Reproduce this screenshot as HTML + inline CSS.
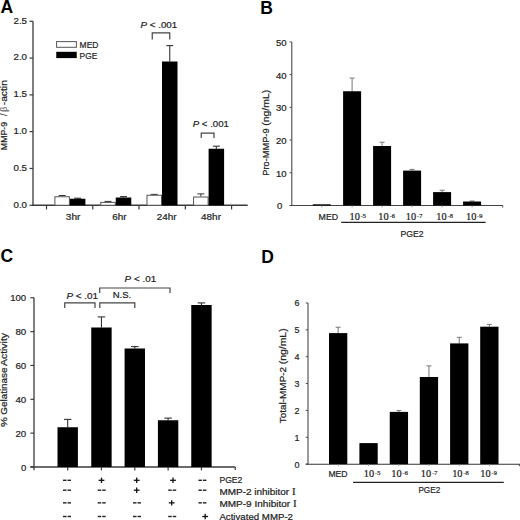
<!DOCTYPE html>
<html><head><meta charset="utf-8"><style>
html,body{margin:0;padding:0;background:#fff;width:520px;height:520px;overflow:hidden}
svg{display:block}
</style></head><body>
<svg width="520" height="520" viewBox="0 0 520 520" shape-rendering="auto">
<rect width="520" height="520" fill="#fff"/>
<text x="0.60" y="12.70" font-size="17.5" font-family='"Liberation Sans", sans-serif' text-anchor="start" fill="#000" font-weight="bold">A</text>
<text x="260.20" y="13.60" font-size="17.5" font-family='"Liberation Sans", sans-serif' text-anchor="start" fill="#000" font-weight="bold">B</text>
<text x="0.40" y="262.30" font-size="17.5" font-family='"Liberation Sans", sans-serif' text-anchor="start" fill="#000" font-weight="bold">C</text>
<text x="261.20" y="262.50" font-size="17.5" font-family='"Liberation Sans", sans-serif' text-anchor="start" fill="#000" font-weight="bold">D</text>
<line x1="33.00" y1="21.25" x2="33.00" y2="205.75" stroke="#3a3a3a" stroke-width="1.3"/>
<line x1="29.50" y1="21.25" x2="33.00" y2="21.25" stroke="#3a3a3a" stroke-width="1.2"/>
<text x="27.00" y="23.50" font-size="9" font-family='"Liberation Sans", sans-serif' text-anchor="end" fill="#222" stroke="#222" stroke-width="0.2" textLength="13.5" lengthAdjust="spacingAndGlyphs">2.5</text>
<line x1="29.50" y1="58.05" x2="33.00" y2="58.05" stroke="#3a3a3a" stroke-width="1.2"/>
<text x="27.00" y="60.44" font-size="9" font-family='"Liberation Sans", sans-serif' text-anchor="end" fill="#222" stroke="#222" stroke-width="0.2" textLength="13.5" lengthAdjust="spacingAndGlyphs">2.0</text>
<line x1="29.50" y1="94.85" x2="33.00" y2="94.85" stroke="#3a3a3a" stroke-width="1.2"/>
<text x="27.00" y="97.38" font-size="9" font-family='"Liberation Sans", sans-serif' text-anchor="end" fill="#222" stroke="#222" stroke-width="0.2" textLength="13.5" lengthAdjust="spacingAndGlyphs">1.5</text>
<line x1="29.50" y1="131.65" x2="33.00" y2="131.65" stroke="#3a3a3a" stroke-width="1.2"/>
<text x="27.00" y="134.32" font-size="9" font-family='"Liberation Sans", sans-serif' text-anchor="end" fill="#222" stroke="#222" stroke-width="0.2" textLength="13.5" lengthAdjust="spacingAndGlyphs">1.0</text>
<line x1="29.50" y1="168.45" x2="33.00" y2="168.45" stroke="#3a3a3a" stroke-width="1.2"/>
<text x="27.00" y="171.26" font-size="9" font-family='"Liberation Sans", sans-serif' text-anchor="end" fill="#222" stroke="#222" stroke-width="0.2" textLength="13.5" lengthAdjust="spacingAndGlyphs">0.5</text>
<line x1="29.50" y1="205.25" x2="33.00" y2="205.25" stroke="#3a3a3a" stroke-width="1.2"/>
<text x="27.00" y="208.20" font-size="9" font-family='"Liberation Sans", sans-serif' text-anchor="end" fill="#222" stroke="#222" stroke-width="0.2" textLength="13.5" lengthAdjust="spacingAndGlyphs">0.0</text>
<line x1="32.40" y1="205.25" x2="247.70" y2="205.25" stroke="#3a3a3a" stroke-width="1.3"/>
<line x1="46.50" y1="205.25" x2="46.50" y2="209.45" stroke="#3a3a3a" stroke-width="1.2"/>
<line x1="92.77" y1="205.25" x2="92.77" y2="209.45" stroke="#3a3a3a" stroke-width="1.2"/>
<line x1="139.04" y1="205.25" x2="139.04" y2="209.45" stroke="#3a3a3a" stroke-width="1.2"/>
<line x1="185.31" y1="205.25" x2="185.31" y2="209.45" stroke="#3a3a3a" stroke-width="1.2"/>
<line x1="231.58" y1="205.25" x2="231.58" y2="209.45" stroke="#3a3a3a" stroke-width="1.2"/>
<text stroke="#222" stroke-width="0.2" transform="translate(6.70,150.15) rotate(-90)" x="0" y="0" font-size="8.8" font-family='"Liberation Sans", sans-serif' fill="#222" textLength="28.20" lengthAdjust="spacingAndGlyphs">MMP-9</text>
<text stroke="#333" stroke-width="0.1" transform="translate(6.7,114.9) rotate(-90)" font-size="8.8" font-family='"Liberation Sans", sans-serif' fill="#333" text-anchor="middle">/</text>
<text stroke="#666" stroke-width="0.1" transform="translate(6.7,109.1) rotate(-90)" font-size="8.8" font-family='"Liberation Sans", sans-serif' fill="#666" text-anchor="middle">β</text>
<text stroke="#222" stroke-width="0.2" transform="translate(6.70,105.25) rotate(-90)" x="0" y="0" font-size="8.8" font-family='"Liberation Sans", sans-serif' fill="#222" textLength="25.10" lengthAdjust="spacingAndGlyphs">-actin</text>
<line x1="62.15" y1="196.25" x2="62.15" y2="195.50" stroke="#333" stroke-width="1"/>
<line x1="58.65" y1="195.50" x2="65.65" y2="195.50" stroke="#333" stroke-width="1"/>
<line x1="77.65" y1="198.75" x2="77.65" y2="198.20" stroke="#333" stroke-width="1.1"/>
<line x1="74.15" y1="198.20" x2="81.15" y2="198.20" stroke="#333" stroke-width="1.1"/>
<rect x="54.90" y="196.75" width="14.50" height="8.50" fill="#fff" stroke="#555" stroke-width="1"/>
<rect x="69.90" y="198.75" width="15.50" height="6.50" fill="#000"/>
<line x1="108.00" y1="201.90" x2="108.00" y2="201.40" stroke="#333" stroke-width="1"/>
<line x1="104.50" y1="201.40" x2="111.50" y2="201.40" stroke="#333" stroke-width="1"/>
<line x1="123.50" y1="197.50" x2="123.50" y2="196.60" stroke="#333" stroke-width="1.1"/>
<line x1="120.00" y1="196.60" x2="127.00" y2="196.60" stroke="#333" stroke-width="1.1"/>
<rect x="100.75" y="202.40" width="14.50" height="2.85" fill="#fff" stroke="#555" stroke-width="1"/>
<rect x="115.75" y="197.50" width="15.50" height="7.75" fill="#000"/>
<line x1="154.25" y1="194.75" x2="154.25" y2="194.40" stroke="#333" stroke-width="1"/>
<line x1="150.75" y1="194.40" x2="157.75" y2="194.40" stroke="#333" stroke-width="1"/>
<line x1="169.75" y1="61.50" x2="169.75" y2="45.60" stroke="#333" stroke-width="1.1"/>
<line x1="166.25" y1="45.60" x2="173.25" y2="45.60" stroke="#333" stroke-width="1.1"/>
<rect x="147.00" y="195.25" width="14.50" height="10.00" fill="#fff" stroke="#555" stroke-width="1"/>
<rect x="162.00" y="61.50" width="15.50" height="143.75" fill="#000"/>
<line x1="200.85" y1="196.50" x2="200.85" y2="193.90" stroke="#333" stroke-width="1"/>
<line x1="197.35" y1="193.90" x2="204.35" y2="193.90" stroke="#333" stroke-width="1"/>
<line x1="216.35" y1="148.75" x2="216.35" y2="146.20" stroke="#333" stroke-width="1.1"/>
<line x1="212.85" y1="146.20" x2="219.85" y2="146.20" stroke="#333" stroke-width="1.1"/>
<rect x="193.60" y="197.00" width="14.50" height="8.25" fill="#fff" stroke="#555" stroke-width="1"/>
<rect x="208.60" y="148.75" width="15.50" height="56.50" fill="#000"/>
<text x="73.10" y="220.30" font-size="9" font-family='"Liberation Sans", sans-serif' text-anchor="middle" fill="#222" stroke="#222" stroke-width="0.2" textLength="14.5" lengthAdjust="spacingAndGlyphs">3hr</text>
<text x="119.50" y="220.30" font-size="9" font-family='"Liberation Sans", sans-serif' text-anchor="middle" fill="#222" stroke="#222" stroke-width="0.2" textLength="14.3" lengthAdjust="spacingAndGlyphs">6hr</text>
<text x="166.75" y="220.30" font-size="9" font-family='"Liberation Sans", sans-serif' text-anchor="middle" fill="#222" stroke="#222" stroke-width="0.2" textLength="19.8" lengthAdjust="spacingAndGlyphs">24hr</text>
<text x="211.00" y="220.30" font-size="9" font-family='"Liberation Sans", sans-serif' text-anchor="middle" fill="#222" stroke="#222" stroke-width="0.2" textLength="20.0" lengthAdjust="spacingAndGlyphs">48hr</text>
<rect x="56.60" y="41.60" width="19.80" height="5.70" fill="#fff" stroke="#555" stroke-width="1"/>
<rect x="56.25" y="51.80" width="20.50" height="6.30" fill="#000"/>
<text x="79.60" y="47.90" font-size="8.8" font-family='"Liberation Sans", sans-serif' text-anchor="start" fill="#222" stroke="#222" stroke-width="0.2" textLength="18.8" lengthAdjust="spacingAndGlyphs">MED</text>
<text x="79.60" y="58.60" font-size="8.8" font-family='"Liberation Sans", sans-serif' text-anchor="start" fill="#222" stroke="#222" stroke-width="0.2" textLength="17.6" lengthAdjust="spacingAndGlyphs">PGE</text>
<text x="140.60" y="27.80" font-size="9" font-family='"Liberation Sans", sans-serif' text-anchor="start" fill="#222" stroke="#222" stroke-width="0.2" textLength="36.6" lengthAdjust="spacingAndGlyphs"><tspan font-style="italic">P</tspan> &lt; .001</text>
<path d="M152.25,39.40 L152.25,32.90 L169.75,32.90 L169.75,39.40" fill="none" stroke="#444" stroke-width="1.2"/>
<text x="192.70" y="126.90" font-size="9" font-family='"Liberation Sans", sans-serif' text-anchor="start" fill="#222" stroke="#222" stroke-width="0.2" textLength="36.2" lengthAdjust="spacingAndGlyphs"><tspan font-style="italic">P</tspan> &lt; .001</text>
<path d="M201.25,138.10 L201.25,133.10 L214.00,133.10 L214.00,138.10" fill="none" stroke="#444" stroke-width="1.2"/>
<line x1="291.80" y1="41.90" x2="291.80" y2="205.50" stroke="#4a4a4a" stroke-width="1.1"/>
<line x1="289.60" y1="41.90" x2="291.80" y2="41.90" stroke="#4a4a4a" stroke-width="1"/>
<text x="281.20" y="45.80" font-size="9" font-family='"Liberation Sans", sans-serif' text-anchor="middle" fill="#222" stroke="#222" stroke-width="0.2" textLength="10.6" lengthAdjust="spacingAndGlyphs">50</text>
<line x1="289.60" y1="74.62" x2="291.80" y2="74.62" stroke="#4a4a4a" stroke-width="1"/>
<text x="281.20" y="78.52" font-size="9" font-family='"Liberation Sans", sans-serif' text-anchor="middle" fill="#222" stroke="#222" stroke-width="0.2" textLength="10.6" lengthAdjust="spacingAndGlyphs">40</text>
<line x1="289.60" y1="107.34" x2="291.80" y2="107.34" stroke="#4a4a4a" stroke-width="1"/>
<text x="281.20" y="111.24" font-size="9" font-family='"Liberation Sans", sans-serif' text-anchor="middle" fill="#222" stroke="#222" stroke-width="0.2" textLength="10.6" lengthAdjust="spacingAndGlyphs">30</text>
<line x1="289.60" y1="140.06" x2="291.80" y2="140.06" stroke="#4a4a4a" stroke-width="1"/>
<text x="281.20" y="143.96" font-size="9" font-family='"Liberation Sans", sans-serif' text-anchor="middle" fill="#222" stroke="#222" stroke-width="0.2" textLength="10.6" lengthAdjust="spacingAndGlyphs">20</text>
<line x1="289.60" y1="172.78" x2="291.80" y2="172.78" stroke="#4a4a4a" stroke-width="1"/>
<text x="281.20" y="176.68" font-size="9" font-family='"Liberation Sans", sans-serif' text-anchor="middle" fill="#222" stroke="#222" stroke-width="0.2" textLength="10.6" lengthAdjust="spacingAndGlyphs">10</text>
<line x1="289.60" y1="205.50" x2="291.80" y2="205.50" stroke="#4a4a4a" stroke-width="1"/>
<text x="279.70" y="209.40" font-size="9" font-family='"Liberation Sans", sans-serif' text-anchor="middle" fill="#222" stroke="#222" stroke-width="0.2" textLength="5.3" lengthAdjust="spacingAndGlyphs">0</text>
<line x1="289.80" y1="205.50" x2="502.75" y2="205.50" stroke="#444" stroke-width="1.0"/>
<line x1="502.75" y1="205.50" x2="502.75" y2="207.50" stroke="#4a4a4a" stroke-width="1"/>
<rect x="312.75" y="204.30" width="18.00" height="1.20" fill="#000"/>
<line x1="321.75" y1="205.50" x2="321.75" y2="207.30" stroke="#888" stroke-width="1"/>
<line x1="352.10" y1="91.25" x2="352.10" y2="78.10" stroke="#777" stroke-width="1"/>
<line x1="349.60" y1="78.10" x2="354.60" y2="78.10" stroke="#777" stroke-width="1"/>
<rect x="343.10" y="91.25" width="18.00" height="114.25" fill="#000"/>
<line x1="352.10" y1="205.50" x2="352.10" y2="207.30" stroke="#888" stroke-width="1"/>
<line x1="382.10" y1="146.00" x2="382.10" y2="142.25" stroke="#777" stroke-width="1"/>
<line x1="379.60" y1="142.25" x2="384.60" y2="142.25" stroke="#777" stroke-width="1"/>
<rect x="373.10" y="146.00" width="18.00" height="59.50" fill="#000"/>
<line x1="382.10" y1="205.50" x2="382.10" y2="207.30" stroke="#888" stroke-width="1"/>
<line x1="412.10" y1="170.60" x2="412.10" y2="169.40" stroke="#777" stroke-width="1"/>
<line x1="409.60" y1="169.40" x2="414.60" y2="169.40" stroke="#777" stroke-width="1"/>
<rect x="403.10" y="170.60" width="18.00" height="34.90" fill="#000"/>
<line x1="412.10" y1="205.50" x2="412.10" y2="207.30" stroke="#888" stroke-width="1"/>
<line x1="442.10" y1="192.10" x2="442.10" y2="190.25" stroke="#777" stroke-width="1"/>
<line x1="439.60" y1="190.25" x2="444.60" y2="190.25" stroke="#777" stroke-width="1"/>
<rect x="433.10" y="192.10" width="18.00" height="13.40" fill="#000"/>
<line x1="442.10" y1="205.50" x2="442.10" y2="207.30" stroke="#888" stroke-width="1"/>
<line x1="472.10" y1="201.50" x2="472.10" y2="201.00" stroke="#777" stroke-width="1"/>
<line x1="469.60" y1="201.00" x2="474.60" y2="201.00" stroke="#777" stroke-width="1"/>
<rect x="463.10" y="201.50" width="18.00" height="4.00" fill="#000"/>
<line x1="472.10" y1="205.50" x2="472.10" y2="207.30" stroke="#888" stroke-width="1"/>
<text stroke="#222" stroke-width="0.2" transform="translate(268.70,175.65) rotate(-90)" x="0" y="0" font-size="8.8" font-family='"Liberation Sans", sans-serif' fill="#222" textLength="47.20" lengthAdjust="spacingAndGlyphs">Pro-MMP-9</text>
<text stroke="#222" stroke-width="0.2" transform="translate(268.70,125.65) rotate(-90)" x="0" y="0" font-size="8.8" font-family='"Liberation Sans", sans-serif' fill="#222" textLength="35.80" lengthAdjust="spacingAndGlyphs">(ng/mL)</text>
<text x="318.60" y="219.60" font-size="8.8" font-family='"Liberation Sans", sans-serif' text-anchor="start" fill="#222" stroke="#222" stroke-width="0.2" textLength="19.5" lengthAdjust="spacingAndGlyphs">MED</text>
<text x="349.49" y="219.70" font-size="9.4" font-family='"Liberation Serif", serif' text-anchor="start" fill="#222" stroke="#222" stroke-width="0.2" textLength="10.31" lengthAdjust="spacingAndGlyphs">10</text>
<text x="360.77" y="217.60" font-size="5.6" font-family='"Liberation Serif", serif' text-anchor="start" fill="#222" stroke="#222" stroke-width="0.2" textLength="5.27" lengthAdjust="spacingAndGlyphs">-5</text>
<text x="378.39" y="219.70" font-size="9.4" font-family='"Liberation Serif", serif' text-anchor="start" fill="#222" stroke="#222" stroke-width="0.2" textLength="10.31" lengthAdjust="spacingAndGlyphs">10</text>
<text x="389.67" y="217.60" font-size="5.6" font-family='"Liberation Serif", serif' text-anchor="start" fill="#222" stroke="#222" stroke-width="0.2" textLength="5.27" lengthAdjust="spacingAndGlyphs">-6</text>
<text x="405.79" y="219.70" font-size="9.4" font-family='"Liberation Serif", serif' text-anchor="start" fill="#222" stroke="#222" stroke-width="0.2" textLength="10.31" lengthAdjust="spacingAndGlyphs">10</text>
<text x="417.07" y="217.60" font-size="5.6" font-family='"Liberation Serif", serif' text-anchor="start" fill="#222" stroke="#222" stroke-width="0.2" textLength="5.27" lengthAdjust="spacingAndGlyphs">-7</text>
<text x="436.39" y="219.70" font-size="9.4" font-family='"Liberation Serif", serif' text-anchor="start" fill="#222" stroke="#222" stroke-width="0.2" textLength="10.31" lengthAdjust="spacingAndGlyphs">10</text>
<text x="447.67" y="217.60" font-size="5.6" font-family='"Liberation Serif", serif' text-anchor="start" fill="#222" stroke="#222" stroke-width="0.2" textLength="5.27" lengthAdjust="spacingAndGlyphs">-8</text>
<text x="465.99" y="219.70" font-size="9.4" font-family='"Liberation Serif", serif' text-anchor="start" fill="#222" stroke="#222" stroke-width="0.2" textLength="10.31" lengthAdjust="spacingAndGlyphs">10</text>
<text x="477.27" y="217.60" font-size="5.6" font-family='"Liberation Serif", serif' text-anchor="start" fill="#222" stroke="#222" stroke-width="0.2" textLength="5.27" lengthAdjust="spacingAndGlyphs">-9</text>
<line x1="341.20" y1="222.30" x2="485.60" y2="222.30" stroke="#222" stroke-width="1.3"/>
<text x="400.60" y="236.90" font-size="8.8" font-family='"Liberation Sans", sans-serif' text-anchor="start" fill="#222" stroke="#222" stroke-width="0.2" textLength="23.0" lengthAdjust="spacingAndGlyphs">PGE2</text>
<line x1="34.00" y1="297.75" x2="34.00" y2="470.30" stroke="#3a3a3a" stroke-width="1.3"/>
<line x1="30.40" y1="297.75" x2="34.00" y2="297.75" stroke="#3a3a3a" stroke-width="1.2"/>
<text x="26.20" y="301.45" font-size="9" font-family='"Liberation Sans", sans-serif' text-anchor="end" fill="#222" stroke="#222" stroke-width="0.2" textLength="16.0" lengthAdjust="spacingAndGlyphs">100</text>
<line x1="30.40" y1="331.60" x2="34.00" y2="331.60" stroke="#3a3a3a" stroke-width="1.2"/>
<text x="26.20" y="335.30" font-size="9" font-family='"Liberation Sans", sans-serif' text-anchor="end" fill="#222" stroke="#222" stroke-width="0.2" textLength="10.8" lengthAdjust="spacingAndGlyphs">80</text>
<line x1="30.40" y1="365.45" x2="34.00" y2="365.45" stroke="#3a3a3a" stroke-width="1.2"/>
<text x="26.20" y="369.15" font-size="9" font-family='"Liberation Sans", sans-serif' text-anchor="end" fill="#222" stroke="#222" stroke-width="0.2" textLength="10.8" lengthAdjust="spacingAndGlyphs">60</text>
<line x1="30.40" y1="399.30" x2="34.00" y2="399.30" stroke="#3a3a3a" stroke-width="1.2"/>
<text x="26.20" y="403.00" font-size="9" font-family='"Liberation Sans", sans-serif' text-anchor="end" fill="#222" stroke="#222" stroke-width="0.2" textLength="10.8" lengthAdjust="spacingAndGlyphs">40</text>
<line x1="30.40" y1="433.15" x2="34.00" y2="433.15" stroke="#3a3a3a" stroke-width="1.2"/>
<text x="26.20" y="436.85" font-size="9" font-family='"Liberation Sans", sans-serif' text-anchor="end" fill="#222" stroke="#222" stroke-width="0.2" textLength="10.8" lengthAdjust="spacingAndGlyphs">20</text>
<line x1="30.40" y1="467.00" x2="34.00" y2="467.00" stroke="#3a3a3a" stroke-width="1.2"/>
<text x="26.20" y="470.70" font-size="9" font-family='"Liberation Sans", sans-serif' text-anchor="end" fill="#222" stroke="#222" stroke-width="0.2" textLength="5.3" lengthAdjust="spacingAndGlyphs">0</text>
<line x1="30.40" y1="467.00" x2="235.25" y2="467.00" stroke="#3a3a3a" stroke-width="1.3"/>
<line x1="235.25" y1="467.00" x2="235.25" y2="470.00" stroke="#3a3a3a" stroke-width="1.2"/>
<line x1="67.70" y1="427.25" x2="67.70" y2="419.40" stroke="#333" stroke-width="1.1"/>
<line x1="63.95" y1="419.40" x2="71.45" y2="419.40" stroke="#333" stroke-width="1.1"/>
<rect x="57.50" y="427.25" width="20.40" height="39.75" fill="#000"/>
<line x1="67.70" y1="467.00" x2="67.70" y2="470.40" stroke="#3a3a3a" stroke-width="1.2"/>
<line x1="101.45" y1="327.50" x2="101.45" y2="316.90" stroke="#333" stroke-width="1.1"/>
<line x1="97.70" y1="316.90" x2="105.20" y2="316.90" stroke="#333" stroke-width="1.1"/>
<rect x="91.25" y="327.50" width="20.40" height="139.50" fill="#000"/>
<line x1="101.45" y1="467.00" x2="101.45" y2="470.40" stroke="#3a3a3a" stroke-width="1.2"/>
<line x1="134.80" y1="348.50" x2="134.80" y2="346.60" stroke="#333" stroke-width="1.1"/>
<line x1="131.05" y1="346.60" x2="138.55" y2="346.60" stroke="#333" stroke-width="1.1"/>
<rect x="124.60" y="348.50" width="20.40" height="118.50" fill="#000"/>
<line x1="134.80" y1="467.00" x2="134.80" y2="470.40" stroke="#3a3a3a" stroke-width="1.2"/>
<line x1="168.10" y1="420.25" x2="168.10" y2="418.10" stroke="#333" stroke-width="1.1"/>
<line x1="164.35" y1="418.10" x2="171.85" y2="418.10" stroke="#333" stroke-width="1.1"/>
<rect x="157.90" y="420.25" width="20.40" height="46.75" fill="#000"/>
<line x1="168.10" y1="467.00" x2="168.10" y2="470.40" stroke="#3a3a3a" stroke-width="1.2"/>
<line x1="201.45" y1="305.00" x2="201.45" y2="302.90" stroke="#333" stroke-width="1.1"/>
<line x1="197.70" y1="302.90" x2="205.20" y2="302.90" stroke="#333" stroke-width="1.1"/>
<rect x="191.25" y="305.00" width="20.40" height="162.00" fill="#000"/>
<line x1="201.45" y1="467.00" x2="201.45" y2="470.40" stroke="#3a3a3a" stroke-width="1.2"/>
<text stroke="#222" stroke-width="0.2" transform="translate(7.00,426.95) rotate(-90)" x="0" y="0" font-size="8.8" font-family='"Liberation Sans", sans-serif' fill="#222" textLength="9.90" lengthAdjust="spacingAndGlyphs">%</text>
<text stroke="#222" stroke-width="0.2" transform="translate(7.00,414.65) rotate(-90)" x="0" y="0" font-size="8.8" font-family='"Liberation Sans", sans-serif' fill="#222" textLength="47.10" lengthAdjust="spacingAndGlyphs">Gelatinase</text>
<text stroke="#222" stroke-width="0.2" transform="translate(7.00,366.05) rotate(-90)" x="0" y="0" font-size="8.8" font-family='"Liberation Sans", sans-serif' fill="#222" textLength="33.10" lengthAdjust="spacingAndGlyphs">Activity</text>
<path d="M64.75,307.90 L64.75,302.90 L95.00,302.90 L95.00,307.90" fill="none" stroke="#444" stroke-width="1.2"/>
<text x="66.40" y="298.50" font-size="9" font-family='"Liberation Sans", sans-serif' text-anchor="start" fill="#222" stroke="#222" stroke-width="0.2" textLength="31.6" lengthAdjust="spacingAndGlyphs"><tspan font-style="italic">P</tspan> &lt; .01</text>
<path d="M99.80,308.00 L99.80,302.90 L134.80,302.90 L134.80,308.00" fill="none" stroke="#444" stroke-width="1.2"/>
<text x="112.70" y="298.00" font-size="9" font-family='"Liberation Sans", sans-serif' text-anchor="start" fill="#222" stroke="#222" stroke-width="0.2" textLength="18.6" lengthAdjust="spacingAndGlyphs">N.S.</text>
<path d="M99.70,293.10 L99.70,288.00 L170.00,288.00 L170.00,293.10" fill="none" stroke="#444" stroke-width="1.2"/>
<text x="124.60" y="281.90" font-size="9" font-family='"Liberation Sans", sans-serif' text-anchor="start" fill="#222" stroke="#222" stroke-width="0.2" textLength="31.6" lengthAdjust="spacingAndGlyphs"><tspan font-style="italic">P</tspan> &lt; .01</text>
<line x1="63.00" y1="480.30" x2="66.50" y2="480.30" stroke="#222" stroke-width="1.4"/>
<line x1="67.50" y1="480.30" x2="71.00" y2="480.30" stroke="#222" stroke-width="1.4"/>
<line x1="98.60" y1="480.30" x2="104.40" y2="480.30" stroke="#111" stroke-width="1.3"/>
<line x1="101.50" y1="477.60" x2="101.50" y2="483.00" stroke="#111" stroke-width="1.3"/>
<line x1="133.80" y1="480.30" x2="139.60" y2="480.30" stroke="#111" stroke-width="1.3"/>
<line x1="136.70" y1="477.60" x2="136.70" y2="483.00" stroke="#111" stroke-width="1.3"/>
<line x1="170.10" y1="480.30" x2="175.90" y2="480.30" stroke="#111" stroke-width="1.3"/>
<line x1="173.00" y1="477.60" x2="173.00" y2="483.00" stroke="#111" stroke-width="1.3"/>
<line x1="198.40" y1="480.30" x2="201.90" y2="480.30" stroke="#222" stroke-width="1.4"/>
<line x1="202.90" y1="480.30" x2="206.40" y2="480.30" stroke="#222" stroke-width="1.4"/>
<line x1="63.00" y1="490.20" x2="66.50" y2="490.20" stroke="#222" stroke-width="1.4"/>
<line x1="67.50" y1="490.20" x2="71.00" y2="490.20" stroke="#222" stroke-width="1.4"/>
<line x1="97.70" y1="490.20" x2="101.20" y2="490.20" stroke="#222" stroke-width="1.4"/>
<line x1="102.20" y1="490.20" x2="105.70" y2="490.20" stroke="#222" stroke-width="1.4"/>
<line x1="133.80" y1="490.20" x2="139.60" y2="490.20" stroke="#111" stroke-width="1.3"/>
<line x1="136.70" y1="487.50" x2="136.70" y2="492.90" stroke="#111" stroke-width="1.3"/>
<line x1="168.20" y1="490.20" x2="171.70" y2="490.20" stroke="#222" stroke-width="1.4"/>
<line x1="172.70" y1="490.20" x2="176.20" y2="490.20" stroke="#222" stroke-width="1.4"/>
<line x1="198.40" y1="490.20" x2="201.90" y2="490.20" stroke="#222" stroke-width="1.4"/>
<line x1="202.90" y1="490.20" x2="206.40" y2="490.20" stroke="#222" stroke-width="1.4"/>
<line x1="63.00" y1="502.85" x2="66.50" y2="502.85" stroke="#222" stroke-width="1.4"/>
<line x1="67.50" y1="502.85" x2="71.00" y2="502.85" stroke="#222" stroke-width="1.4"/>
<line x1="97.70" y1="502.85" x2="101.20" y2="502.85" stroke="#222" stroke-width="1.4"/>
<line x1="102.20" y1="502.85" x2="105.70" y2="502.85" stroke="#222" stroke-width="1.4"/>
<line x1="133.00" y1="502.85" x2="136.50" y2="502.85" stroke="#222" stroke-width="1.4"/>
<line x1="137.50" y1="502.85" x2="141.00" y2="502.85" stroke="#222" stroke-width="1.4"/>
<line x1="168.80" y1="502.85" x2="174.60" y2="502.85" stroke="#111" stroke-width="1.3"/>
<line x1="171.70" y1="500.15" x2="171.70" y2="505.55" stroke="#111" stroke-width="1.3"/>
<line x1="198.40" y1="502.85" x2="201.90" y2="502.85" stroke="#222" stroke-width="1.4"/>
<line x1="202.90" y1="502.85" x2="206.40" y2="502.85" stroke="#222" stroke-width="1.4"/>
<line x1="63.00" y1="516.50" x2="66.50" y2="516.50" stroke="#222" stroke-width="1.4"/>
<line x1="67.50" y1="516.50" x2="71.00" y2="516.50" stroke="#222" stroke-width="1.4"/>
<line x1="97.70" y1="516.50" x2="101.20" y2="516.50" stroke="#222" stroke-width="1.4"/>
<line x1="102.20" y1="516.50" x2="105.70" y2="516.50" stroke="#222" stroke-width="1.4"/>
<line x1="133.00" y1="516.50" x2="136.50" y2="516.50" stroke="#222" stroke-width="1.4"/>
<line x1="137.50" y1="516.50" x2="141.00" y2="516.50" stroke="#222" stroke-width="1.4"/>
<line x1="168.20" y1="516.50" x2="171.70" y2="516.50" stroke="#222" stroke-width="1.4"/>
<line x1="172.70" y1="516.50" x2="176.20" y2="516.50" stroke="#222" stroke-width="1.4"/>
<line x1="202.30" y1="516.50" x2="208.10" y2="516.50" stroke="#111" stroke-width="1.3"/>
<line x1="205.20" y1="513.80" x2="205.20" y2="519.20" stroke="#111" stroke-width="1.3"/>
<text x="219.40" y="483.10" font-size="8.8" font-family='"Liberation Sans", sans-serif' text-anchor="start" fill="#222" stroke="#222" stroke-width="0.2" textLength="23.0" lengthAdjust="spacingAndGlyphs">PGE2</text>
<text x="219.40" y="494.90" font-size="8.8" font-family='"Liberation Sans", sans-serif' text-anchor="start" fill="#222" stroke="#222" stroke-width="0.2" textLength="76.2" lengthAdjust="spacingAndGlyphs">MMP-2 inhibitor <tspan font-family="Liberation Serif" font-size="9.6">I</tspan></text>
<text x="219.40" y="506.90" font-size="8.8" font-family='"Liberation Sans", sans-serif' text-anchor="start" fill="#222" stroke="#222" stroke-width="0.2" textLength="77.2" lengthAdjust="spacingAndGlyphs">MMP-9 Inhibitor <tspan font-family="Liberation Serif" font-size="9.6">I</tspan></text>
<text x="219.40" y="519.60" font-size="8.8" font-family='"Liberation Sans", sans-serif' text-anchor="start" fill="#222" stroke="#222" stroke-width="0.2" textLength="73.6" lengthAdjust="spacingAndGlyphs">Activated MMP-2</text>
<line x1="308.00" y1="303.00" x2="308.00" y2="464.10" stroke="#4a4a4a" stroke-width="1.1"/>
<line x1="305.80" y1="464.10" x2="308.00" y2="464.10" stroke="#4a4a4a" stroke-width="1"/>
<text x="299.60" y="467.55" font-size="9" font-family='"Liberation Sans", sans-serif' text-anchor="end" fill="#222" stroke="#222" stroke-width="0.2" textLength="5.0" lengthAdjust="spacingAndGlyphs">0</text>
<line x1="305.80" y1="437.25" x2="308.00" y2="437.25" stroke="#4a4a4a" stroke-width="1"/>
<text x="299.60" y="440.70" font-size="9" font-family='"Liberation Sans", sans-serif' text-anchor="end" fill="#222" stroke="#222" stroke-width="0.2" textLength="5.0" lengthAdjust="spacingAndGlyphs">1</text>
<line x1="305.80" y1="410.40" x2="308.00" y2="410.40" stroke="#4a4a4a" stroke-width="1"/>
<text x="299.60" y="413.85" font-size="9" font-family='"Liberation Sans", sans-serif' text-anchor="end" fill="#222" stroke="#222" stroke-width="0.2" textLength="5.0" lengthAdjust="spacingAndGlyphs">2</text>
<line x1="305.80" y1="383.55" x2="308.00" y2="383.55" stroke="#4a4a4a" stroke-width="1"/>
<text x="299.60" y="387.00" font-size="9" font-family='"Liberation Sans", sans-serif' text-anchor="end" fill="#222" stroke="#222" stroke-width="0.2" textLength="5.0" lengthAdjust="spacingAndGlyphs">3</text>
<line x1="305.80" y1="356.70" x2="308.00" y2="356.70" stroke="#4a4a4a" stroke-width="1"/>
<text x="299.60" y="360.15" font-size="9" font-family='"Liberation Sans", sans-serif' text-anchor="end" fill="#222" stroke="#222" stroke-width="0.2" textLength="5.0" lengthAdjust="spacingAndGlyphs">4</text>
<line x1="305.80" y1="329.85" x2="308.00" y2="329.85" stroke="#4a4a4a" stroke-width="1"/>
<text x="299.60" y="333.30" font-size="9" font-family='"Liberation Sans", sans-serif' text-anchor="end" fill="#222" stroke="#222" stroke-width="0.2" textLength="5.0" lengthAdjust="spacingAndGlyphs">5</text>
<line x1="305.80" y1="303.00" x2="308.00" y2="303.00" stroke="#4a4a4a" stroke-width="1"/>
<text x="299.60" y="306.45" font-size="9" font-family='"Liberation Sans", sans-serif' text-anchor="end" fill="#222" stroke="#222" stroke-width="0.2" textLength="5.0" lengthAdjust="spacingAndGlyphs">6</text>
<line x1="305.80" y1="464.30" x2="520.00" y2="464.30" stroke="#333" stroke-width="1.1"/>
<line x1="519.40" y1="464.10" x2="519.40" y2="466.10" stroke="#4a4a4a" stroke-width="1"/>
<line x1="338.15" y1="333.10" x2="338.15" y2="327.25" stroke="#777" stroke-width="1"/>
<line x1="335.65" y1="327.25" x2="340.65" y2="327.25" stroke="#777" stroke-width="1"/>
<rect x="329.00" y="333.10" width="18.30" height="131.00" fill="#000"/>
<line x1="338.15" y1="464.10" x2="338.15" y2="465.90" stroke="#888" stroke-width="1"/>
<rect x="359.40" y="443.10" width="18.30" height="21.00" fill="#000"/>
<line x1="368.55" y1="464.10" x2="368.55" y2="465.90" stroke="#888" stroke-width="1"/>
<line x1="398.90" y1="411.90" x2="398.90" y2="410.60" stroke="#777" stroke-width="1"/>
<line x1="396.40" y1="410.60" x2="401.40" y2="410.60" stroke="#777" stroke-width="1"/>
<rect x="389.75" y="411.90" width="18.30" height="52.20" fill="#000"/>
<line x1="398.90" y1="464.10" x2="398.90" y2="465.90" stroke="#888" stroke-width="1"/>
<line x1="428.95" y1="377.00" x2="428.95" y2="365.90" stroke="#777" stroke-width="1"/>
<line x1="426.45" y1="365.90" x2="431.45" y2="365.90" stroke="#777" stroke-width="1"/>
<rect x="419.80" y="377.00" width="18.30" height="87.10" fill="#000"/>
<line x1="428.95" y1="464.10" x2="428.95" y2="465.90" stroke="#888" stroke-width="1"/>
<line x1="459.25" y1="343.40" x2="459.25" y2="337.30" stroke="#777" stroke-width="1"/>
<line x1="456.75" y1="337.30" x2="461.75" y2="337.30" stroke="#777" stroke-width="1"/>
<rect x="450.10" y="343.40" width="18.30" height="120.70" fill="#000"/>
<line x1="459.25" y1="464.10" x2="459.25" y2="465.90" stroke="#888" stroke-width="1"/>
<line x1="489.35" y1="326.70" x2="489.35" y2="324.40" stroke="#777" stroke-width="1"/>
<line x1="486.85" y1="324.40" x2="491.85" y2="324.40" stroke="#777" stroke-width="1"/>
<rect x="480.20" y="326.70" width="18.30" height="137.40" fill="#000"/>
<line x1="489.35" y1="464.10" x2="489.35" y2="465.90" stroke="#888" stroke-width="1"/>
<text stroke="#222" stroke-width="0.2" transform="translate(286.20,423.25) rotate(-90)" x="0" y="0" font-size="8.8" font-family='"Liberation Sans", sans-serif' fill="#222" textLength="56.40" lengthAdjust="spacingAndGlyphs">Total-MMP-2</text>
<text stroke="#222" stroke-width="0.2" transform="translate(286.20,364.35) rotate(-90)" x="0" y="0" font-size="8.8" font-family='"Liberation Sans", sans-serif' fill="#222" textLength="36.00" lengthAdjust="spacingAndGlyphs">(ng/mL)</text>
<text x="328.40" y="476.50" font-size="8.8" font-family='"Liberation Sans", sans-serif' text-anchor="start" fill="#222" stroke="#222" stroke-width="0.2" textLength="19.2" lengthAdjust="spacingAndGlyphs">MED</text>
<text x="363.84" y="476.70" font-size="9.4" font-family='"Liberation Serif", serif' text-anchor="start" fill="#222" stroke="#222" stroke-width="0.2" textLength="10.31" lengthAdjust="spacingAndGlyphs">10</text>
<text x="375.12" y="474.60" font-size="5.6" font-family='"Liberation Serif", serif' text-anchor="start" fill="#222" stroke="#222" stroke-width="0.2" textLength="5.27" lengthAdjust="spacingAndGlyphs">-5</text>
<text x="391.34" y="476.70" font-size="9.4" font-family='"Liberation Serif", serif' text-anchor="start" fill="#222" stroke="#222" stroke-width="0.2" textLength="10.31" lengthAdjust="spacingAndGlyphs">10</text>
<text x="402.62" y="474.60" font-size="5.6" font-family='"Liberation Serif", serif' text-anchor="start" fill="#222" stroke="#222" stroke-width="0.2" textLength="5.27" lengthAdjust="spacingAndGlyphs">-6</text>
<text x="420.89" y="476.70" font-size="9.4" font-family='"Liberation Serif", serif' text-anchor="start" fill="#222" stroke="#222" stroke-width="0.2" textLength="10.31" lengthAdjust="spacingAndGlyphs">10</text>
<text x="432.17" y="474.60" font-size="5.6" font-family='"Liberation Serif", serif' text-anchor="start" fill="#222" stroke="#222" stroke-width="0.2" textLength="5.27" lengthAdjust="spacingAndGlyphs">-7</text>
<text x="452.19" y="476.70" font-size="9.4" font-family='"Liberation Serif", serif' text-anchor="start" fill="#222" stroke="#222" stroke-width="0.2" textLength="10.31" lengthAdjust="spacingAndGlyphs">10</text>
<text x="463.47" y="474.60" font-size="5.6" font-family='"Liberation Serif", serif' text-anchor="start" fill="#222" stroke="#222" stroke-width="0.2" textLength="5.27" lengthAdjust="spacingAndGlyphs">-8</text>
<text x="480.34" y="476.70" font-size="9.4" font-family='"Liberation Serif", serif' text-anchor="start" fill="#222" stroke="#222" stroke-width="0.2" textLength="10.31" lengthAdjust="spacingAndGlyphs">10</text>
<text x="491.62" y="474.60" font-size="5.6" font-family='"Liberation Serif", serif' text-anchor="start" fill="#222" stroke="#222" stroke-width="0.2" textLength="5.27" lengthAdjust="spacingAndGlyphs">-9</text>
<line x1="353.10" y1="482.40" x2="503.75" y2="482.40" stroke="#222" stroke-width="1.3"/>
<text x="418.40" y="493.40" font-size="8.8" font-family='"Liberation Sans", sans-serif' text-anchor="start" fill="#222" stroke="#222" stroke-width="0.2" textLength="21.8" lengthAdjust="spacingAndGlyphs">PGE2</text>
</svg>
</body></html>
